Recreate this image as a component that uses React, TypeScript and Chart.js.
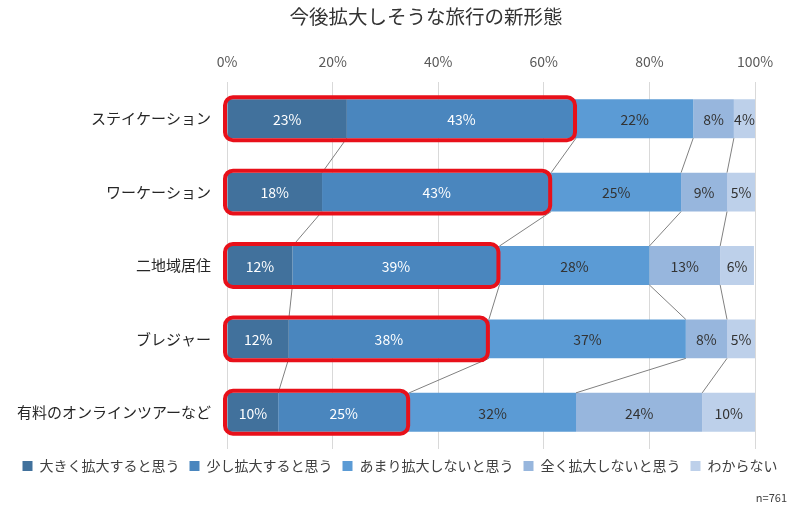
import React, { useEffect, useRef } from "react";
import { Chart, registerables } from "chart.js";

Chart.register(...registerables);

const categories = [
  "ステイケーション",
  "ワーケーション",
  "二地域居住",
  "ブレジャー",
  "有料のオンラインツアーなど",
];
const seriesNames = [
  "大きく拡大すると思う",
  "少し拡大すると思う",
  "あまり拡大しないと思う",
  "全く拡大しないと思う",
  "わからない",
];
const bigExpand = [22.7, 18.0, 12.4, 11.7, 9.7];
const smallExpand = [43.4, 43.4, 39.2, 37.9, 24.8];
const notMuch = [22.2, 24.6, 28.4, 37.3, 31.6];
const notAtAll = [7.7, 8.7, 13.4, 7.8, 23.9];
const unknown = [4.0, 5.3, 6.4, 5.3, 10.0];
const xTicks = [0, 20, 40, 60, 80, 100];
const titleText = "今後拡大しそうな旅行の新形態";
const noteText = "n=761";

const colors = ["#41719C", "#4A86BE", "#5B9BD5", "#97B6DD", "#BDD0EA"];
const labelColors = ["#FFFFFF", "#FFFFFF", "#333333", "#333333", "#333333"];
const FONT = "'Noto Sans CJK JP', 'Noto Sans', sans-serif";

const extrasPlugin = {
  id: "extras",
  afterDatasetsDraw(chart: any) {
    const { ctx } = chart;
    const xs = chart.scales.x;
    const nDs = chart.data.datasets.length;
    // series lines
    ctx.save();
    ctx.strokeStyle = "#808080";
    ctx.lineWidth = 1;
    for (let i = 0; i < categories.length - 1; i++) {
      for (let d = 0; d < nDs - 1; d++) {
        const a: any = chart.getDatasetMeta(d).data[i];
        const b: any = chart.getDatasetMeta(d).data[i + 1];
        ctx.beginPath();
        ctx.moveTo(a.x, a.y + a.height / 2);
        ctx.lineTo(b.x, b.y - b.height / 2);
        ctx.stroke();
      }
    }
    ctx.restore();
    // value labels
    ctx.save();
    ctx.font = "14px " + FONT;
    ctx.textAlign = "center";
    ctx.textBaseline = "middle";
    for (let d = 0; d < nDs; d++) {
      const meta = chart.getDatasetMeta(d);
      const vals = chart.data.datasets[d].data as number[];
      meta.data.forEach((el: any, i: number) => {
        const cx = (el.x + el.base) / 2;
        ctx.fillStyle = labelColors[d];
        ctx.fillText(Math.round(vals[i]) + "%", cx, el.y + 1);
      });
    }
    ctx.restore();
    // red highlight boxes around first two segments
    ctx.save();
    ctx.strokeStyle = "#E8101A";
    ctx.lineWidth = 4;
    const m1 = chart.getDatasetMeta(1);
    m1.data.forEach((el: any) => {
      const x0 = xs.getPixelForValue(0) - 2;
      const x1 = el.x - 1;
      const y0 = el.y - el.height / 2 - 2;
      const y1 = el.y + el.height / 2 + 2;
      ctx.beginPath();
      ctx.roundRect(x0, y0, x1 - x0, y1 - y0, 8);
      ctx.stroke();
    });
    ctx.restore();
  },
  afterDraw(chart: any) {
    const { ctx } = chart;
    ctx.save();
    ctx.fillStyle = "#333333";
    ctx.font = "19.5px " + FONT;
    ctx.textAlign = "center";
    ctx.textBaseline = "middle";
    ctx.fillText(titleText, 426, 17);
    ctx.font = "11px " + FONT;
    ctx.textAlign = "right";
    ctx.fillStyle = "#404040";
    ctx.fillText(noteText, 787, 498);
    ctx.restore();
  },
};

export default function App() {
  const ref = useRef<HTMLCanvasElement>(null);
  useEffect(() => {
    const series = [bigExpand, smallExpand, notMuch, notAtAll, unknown];
    const chart = new Chart(ref.current as HTMLCanvasElement, {
      type: "bar",
      data: {
        labels: categories,
        datasets: series.map((data, i) => ({
          label: seriesNames[i],
          data,
          backgroundColor: colors[i],
          borderWidth: 0,
          barPercentage: 0.53,
          categoryPercentage: 1,
        })),
      },
      options: {
        indexAxis: "y",
        responsive: false,
        animation: false,
        events: [],
        layout: { padding: { top: 40, right: 0, left: 0, bottom: 30 } },
        scales: {
          x: {
            position: "top",
            stacked: true,
            min: 0,
            max: 100,
            afterBuildTicks: (scale: any) => {
              scale.ticks = xTicks.map((v) => ({ value: v }));
            },
            afterFit: (scale: any) => {
              scale.height = 42;
            },
            grid: { color: "#D9D9D9", drawTicks: false },
            border: { display: false },
            ticks: {
              padding: 12,
              color: "#595959",
              font: { size: 14, family: FONT },
              callback: (v: any) => v + "%",
            },
          },
          y: {
            stacked: true,
            afterFit: (scale: any) => {
              scale.width = 227;
            },
            grid: { display: false },
            border: { display: false },
            ticks: {
              padding: 8,
              color: "#262626",
              font: { size: 15, family: FONT },
            },
          },
          yRight: {
            type: "category",
            position: "right",
            afterFit: (scale: any) => {
              scale.width = 45;
            },
            grid: { display: false },
            border: { display: false },
            ticks: { display: false },
          },
        },
        plugins: {
          title: { display: false },
          tooltip: { enabled: false },
          legend: {
            position: "bottom",
            labels: {
              boxWidth: 10,
              boxHeight: 10,
              padding: 10,
              color: "#404040",
              font: { size: 14, family: FONT },
            },
          },
        },
      } as any,
      plugins: [extrasPlugin],
    });
    return () => chart.destroy();
  }, []);
  return (
    <div style={{ position: "fixed", left: 0, top: 0, width: 800, height: 513, background: "#fff" }}>
      <canvas ref={ref} width={800} height={513} />
    </div>
  );
}
